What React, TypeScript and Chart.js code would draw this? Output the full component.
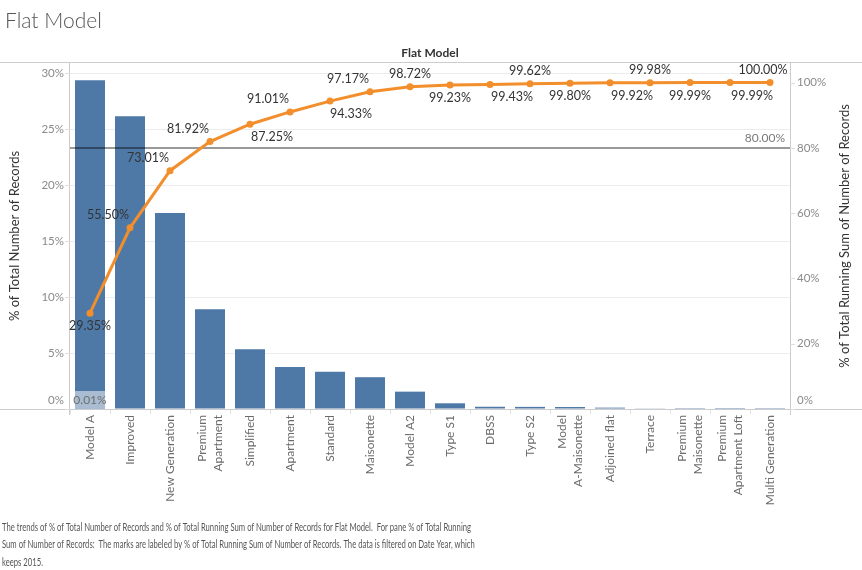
import React, { useEffect, useRef } from "react";
import { Chart, registerables } from "chart.js";

Chart.register(...registerables);

// ---------- data ----------
const categories: (string | string[])[] = [
  "Model A",
  "Improved",
  "New Generation",
  ["Premium", "Apartment"],
  "Simplified",
  "Apartment",
  "Standard",
  "Maisonette",
  "Model A2",
  "Type S1",
  "DBSS",
  "Type S2",
  ["Model", "A-Maisonette"],
  "Adjoined flat",
  "Terrace",
  ["Premium", "Maisonette"],
  ["Premium", "Apartment Loft"],
  "Multi Generation",
];

// % of Total Number of Records (bars, left axis)
const sharePct = [
  29.35, 26.15, 17.51, 8.91, 5.33, 3.76, 3.32, 2.84, 1.55, 0.51, 0.2, 0.19,
  0.18, 0.12, 0.06, 0.01, 0.005, 0.01,
];

// % of Total Running Sum of Number of Records (line, right axis)
const runningPct = [
  29.35, 55.5, 73.01, 81.92, 87.25, 91.01, 94.33, 97.17, 98.72, 99.23, 99.43,
  99.62, 99.8, 99.92, 99.98, 99.99, 99.99, 100.0,
];

// label placement: 1 = above point, -1 = below point; horizontal nudge
const labelSide = [-1, 1, 1, 1, -1, 1, -1, 1, 1, -1, -1, 1, -1, -1, 1, -1, -1, 1];
const labelNudge = [0, -22, -22, -22, 22, -22, 21, -22, 0, 0, 22, 0, 0, 22, 0, 0, 22, -7];

const leftTicks = [0, 5, 10, 15, 20, 25, 30];
const rightTicks = [0, 20, 40, 60, 80, 100];
const leftMax = 30.9;
const rightMax = 106;
const referenceValue = 80;
const referenceLabel = "80.00%";
const highlightLabel = "0.01%";

const chartTitle = "Flat Model";
const headerLabel = "Flat Model";
const leftAxisTitle = "% of Total Number of Records";
const rightAxisTitle = "% of Total Running Sum of Number of Records";
const footerLines = [
  "The trends of % of Total Number of Records and % of Total Running Sum of Number of Records for Flat Model.  For pane % of Total Running",
  "Sum of Number of Records:  The marks are labeled by % of Total Running Sum of Number of Records. The data is filtered on Date Year, which",
  "keeps 2015.",
];

// ---------- styles ----------
const FONT = "Lato, 'Open Sans', 'DejaVu Sans', sans-serif";
const BAR_COLOR = "#4e79a7";
const LINE_COLOR = "#f28e2b";
const FRAME_COLOR = "#cccccc";

const decorPlugin = {
  id: "paretoDecor",
  afterDatasetDraw(chart: any, args: any) {
    if (args.index !== 0) return;
    const ctx: CanvasRenderingContext2D = chart.ctx;
    const { left, right } = chart.chartArea;
    const yS = chart.scales.y;
    const y1 = chart.scales.y1;
    const bar = args.meta.data[0];
    const base = yS.getPixelForValue(0);
    ctx.save();
    // highlighted label box on first bar
    ctx.fillStyle = "#a9bcd2";
    ctx.fillRect(bar.x - bar.width / 2, base - 18, bar.width, 17);
    ctx.fillStyle = "#6e6e6e";
    ctx.font = `12px ${FONT}`;
    ctx.textAlign = "center";
    ctx.textBaseline = "middle";
    ctx.fillText(highlightLabel, bar.x, base - 9);
    // reference line
    const ry = Math.round(y1.getPixelForValue(referenceValue));
    ctx.strokeStyle = "rgba(0,0,0,0.4)";
    ctx.lineWidth = 2;
    ctx.beginPath();
    ctx.moveTo(left, ry);
    ctx.lineTo(right, ry);
    ctx.stroke();
    ctx.fillStyle = "#7a7a7a";
    ctx.textAlign = "right";
    ctx.fillText(referenceLabel, right - 5, ry - 10);
    ctx.restore();
  },
  afterDraw(chart: any) {
    const ctx: CanvasRenderingContext2D = chart.ctx;
    const { left, right, top, bottom } = chart.chartArea;
    const W = chart.width;
    const xS = chart.scales.x;
    const yS = chart.scales.y;
    const y1 = chart.scales.y1;
    ctx.save();

    // frame lines
    ctx.strokeStyle = FRAME_COLOR;
    ctx.lineWidth = 1;
    ctx.beginPath();
    ctx.moveTo(0, Math.round(top) - 0.5);
    ctx.lineTo(W, Math.round(top) - 0.5);
    ctx.moveTo(0, Math.round(bottom) + 0.5);
    ctx.lineTo(W, Math.round(bottom) + 0.5);
    ctx.moveTo(Math.round(left) - 0.5, top);
    ctx.lineTo(Math.round(left) - 0.5, bottom + 6);
    ctx.moveTo(Math.round(right) + 0.5, top);
    ctx.lineTo(Math.round(right) + 0.5, bottom + 6);
    ctx.stroke();

    // tick marks
    ctx.strokeStyle = "#dddddd";
    ctx.beginPath();
    leftTicks.forEach((v) => {
      const y = Math.round(yS.getPixelForValue(v)) + 0.5;
      ctx.moveTo(left - 5, y);
      ctx.lineTo(left, y);
    });
    rightTicks.forEach((v) => {
      const y = Math.round(y1.getPixelForValue(v)) + 0.5;
      ctx.moveTo(right, y);
      ctx.lineTo(right + 5, y);
    });
    ctx.stroke();

    // tick labels
    ctx.fillStyle = "#8a8a8a";
    ctx.font = `11.5px ${FONT}`;
    ctx.textBaseline = "middle";
    ctx.textAlign = "right";
    leftTicks.forEach((v) => {
      let y = yS.getPixelForValue(v);
      if (v === 0) y -= 9;
      ctx.fillText(`${v}%`, left - 6, y);
    });
    ctx.textAlign = "left";
    rightTicks.forEach((v) => {
      let y = y1.getPixelForValue(v);
      if (v === 0) y -= 9;
      ctx.fillText(`${v}%`, right + 7, y);
    });

    // axis titles
    const midY = (top + bottom) / 2;
    ctx.fillStyle = "#333333";
    ctx.font = `13px ${FONT}`;
    ctx.textAlign = "center";
    ctx.textBaseline = "middle";
    ctx.save();
    ctx.translate(15, midY);
    ctx.rotate(-Math.PI / 2);
    ctx.fillText(leftAxisTitle, 0, 0);
    ctx.restore();
    ctx.save();
    ctx.translate(W - 17, midY);
    ctx.rotate(-Math.PI / 2);
    ctx.fillText(rightAxisTitle, 0, 0);
    ctx.restore();

    // category labels
    ctx.fillStyle = "#6b6b6b";
    ctx.font = `12px ${FONT}`;
    ctx.textAlign = "right";
    ctx.textBaseline = "middle";
    categories.forEach((c, i) => {
      const lines = Array.isArray(c) ? c : [c];
      const x = xS.getPixelForValue(i);
      lines.forEach((ln, j) => {
        const cx = x + (j - (lines.length - 1) / 2) * 16;
        ctx.save();
        ctx.translate(cx, bottom + 6);
        ctx.rotate(-Math.PI / 2);
        ctx.fillText(ln, 0, 0);
        ctx.restore();
      });
    });

    // data labels for running sum
    const lineMeta = chart.getDatasetMeta(1);
    ctx.fillStyle = "#333333";
    ctx.font = `12.5px ${FONT}`;
    ctx.textAlign = "center";
    ctx.textBaseline = "middle";
    lineMeta.data.forEach((pt: any, i: number) => {
      const txt = `${runningPct[i].toFixed(2)}%`;
      ctx.fillText(txt, pt.x + labelNudge[i], pt.y - labelSide[i] * 13);
    });

    // chart title
    ctx.fillStyle = "#555555";
    ctx.font = `300 21px ${FONT}`;
    ctx.textAlign = "left";
    ctx.textBaseline = "alphabetic";
    ctx.fillText(chartTitle, 5, 28);

    // header
    ctx.fillStyle = "#333333";
    ctx.font = `bold 12px ${FONT}`;
    ctx.textAlign = "center";
    ctx.textBaseline = "middle";
    ctx.fillText(headerLabel, (left + right) / 2, 53);

    // footer caption
    ctx.fillStyle = "#555555";
    ctx.font = `11.5px ${FONT}`;
    ctx.textAlign = "left";
    ctx.textBaseline = "middle";
    const w0 = ctx.measureText(footerLines[0]).width;
    const sx = 469 / w0;
    footerLines.forEach((ln, i) => {
      ctx.save();
      ctx.translate(2, 527 + i * 17.5);
      ctx.scale(sx, 1);
      ctx.fillText(ln, 0, 0);
      ctx.restore();
    });

    ctx.restore();
  },
};

export default function App() {
  const canvasRef = useRef<HTMLCanvasElement | null>(null);

  useEffect(() => {
    const canvas = canvasRef.current;
    if (!canvas) return;
    const chart = new Chart(canvas, {
      type: "bar",
      data: {
        labels: categories as any,
        datasets: [
          {
            type: "bar",
            label: leftAxisTitle,
            data: sharePct,
            backgroundColor: BAR_COLOR,
            borderWidth: 0,
            barPercentage: 0.75,
            categoryPercentage: 1,
            yAxisID: "y",
            order: 1,
          } as any,
          {
            type: "line",
            label: rightAxisTitle,
            data: runningPct,
            borderColor: LINE_COLOR,
            backgroundColor: LINE_COLOR,
            borderWidth: 3,
            pointRadius: 3.5,
            pointBorderWidth: 0,
            pointBackgroundColor: LINE_COLOR,
            tension: 0,
            yAxisID: "y1",
            order: 0,
          } as any,
        ],
      },
      options: {
        responsive: false,
        animation: false,
        devicePixelRatio: 1,
        layout: { padding: { left: 70, right: 72, top: 63, bottom: 156 } },
        plugins: {
          legend: { display: false },
          title: { display: false },
          tooltip: { enabled: false },
        },
        scales: {
          x: {
            type: "category",
            offset: true,
            border: { display: false },
            grid: {
              offset: true,
              drawOnChartArea: false,
              drawTicks: true,
              tickLength: 5,
              color: "#e4e4e4",
            },
            ticks: { display: false },
          },
          y: {
            type: "linear",
            position: "left",
            min: 0,
            max: leftMax,
            border: { display: false },
            grid: { color: "#ececec", drawTicks: false },
            ticks: { display: false },
            afterBuildTicks: (s: any) => {
              s.ticks = leftTicks.map((v) => ({ value: v }));
            },
          },
          y1: {
            type: "linear",
            position: "right",
            min: 0,
            max: rightMax,
            border: { display: false },
            grid: { drawOnChartArea: false, drawTicks: false },
            ticks: { display: false },
            afterBuildTicks: (s: any) => {
              s.ticks = rightTicks.map((v) => ({ value: v }));
            },
          },
        },
      },
      plugins: [decorPlugin],
    });
    return () => chart.destroy();
  }, []);

  return (
    <div style={{ position: "fixed", left: 0, top: 0, width: 862, height: 570, background: "#fff" }}>
      <canvas ref={canvasRef} width={862} height={570} style={{ display: "block" }} />
    </div>
  );
}
